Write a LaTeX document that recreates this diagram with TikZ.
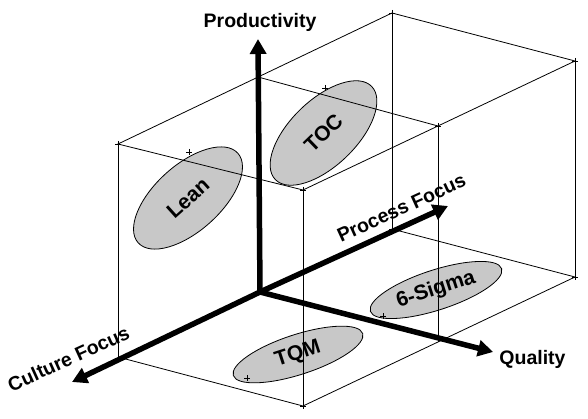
\documentclass[tikz,border=0pt]{standalone}
\usepackage{fontspec}
\setmainfont{Liberation Sans}
\usetikzlibrary{shapes.geometric,arrows.meta}

\definecolor{methodgray}{RGB}{200,200,200}
\tikzset{
	boxline/.style={line width=0.8pt},
	axisarrow/.style={line width=5.5pt,line cap=round,-{Triangle[length=15pt,width=16pt]}},
	axislabel/.style={font=\fontsize{19.5}{22}\selectfont\bfseries,inner sep=0pt},
	method/.style={ellipse,draw,fill=methodgray,line width=0.8pt,inner sep=0pt,font=\fontsize{21}{24}\selectfont\bfseries}
}
\newcommand{\plusmark}[1]{\draw[boxline] (#1) ++(-3,0) -- ++(6,0) (#1) ++(0,-3) -- ++(0,6);}

\begin{document}
\begin{tikzpicture}[x=1pt,y=-1pt]
				\useasboundingbox (0,0) rectangle (588,419);
				
				% methods
				\node[method,minimum width=134pt,minimum height=66pt,rotate=42] (lean) at (188,198) {Lean};
				\node[method,minimum width=134pt,minimum height=66pt,rotate=44] (toc) at (323.5,133) {TOC};
				\node[method,minimum width=138pt,minimum height=40pt,rotate=18] (sigma) at (436,290) {6-Sigma};
				\node[method,minimum width=136pt,minimum height=40pt,rotate=18] (tqm) at (298,354.5) {TQM};
				
				% box corners
				\coordinate (tl) at (118,144);
				\coordinate (tb) at (392,13);
				\coordinate (tr) at (575,61);
				\coordinate (tf) at (303,190);
				\coordinate (tm) at (258,77);
				\coordinate (tn) at (438,126);
				\coordinate (bl) at (118,357);
				\coordinate (bb) at (392,229);
				\coordinate (br) at (575,277);
				\coordinate (bf) at (303,406);
				\coordinate (bn) at (438,342);
				
				\draw[boxline] (tl) -- (tb) -- (tr) -- (tf) -- cycle;
				\draw[boxline] (tm) -- (tn);
				\draw[boxline] (tl) -- (bl);
				\draw[boxline] (tb) -- (bb);
				\draw[boxline] (tr) -- (br);
				\draw[boxline] (tf) -- (bf);
				\draw[boxline] (tn) -- (bn);
				\draw[boxline] (bl) -- (bf) -- (br) -- (bb);
				
				\foreach \p in {tl,tb,tr,tf,tn,bb,br,bf} {\plusmark{\p}}
				\foreach \x/\y in {189/152,325/88,383/316,247/378} {\plusmark{\x,\y}}
				
				% axes
				\coordinate (origin) at (260,292);
				\coordinate (prod) at (258,39);
				\coordinate (culture) at (72,382);
				\coordinate (process) at (448,206);
				\coordinate (quality) at (493,352);
				\draw[axisarrow] (origin) -- (prod);
				\draw[axisarrow] (origin) -- (culture);
				\draw[axisarrow] (origin) -- (process);
				\draw[axisarrow] (origin) -- (quality);
				
				\node[axislabel] (prodlabel) at (260,22.5) {Productivity};
				\node[axislabel,rotate=24.5] (culturelabel) at (68.5,358.5) {Culture Focus};
				\node[axislabel,rotate=24.5] (processlabel) at (401.5,208) {Process Focus};
				\node[axislabel] (qualitylabel) at (532.5,359) {Quality};
			\end{tikzpicture}
\end{document}
